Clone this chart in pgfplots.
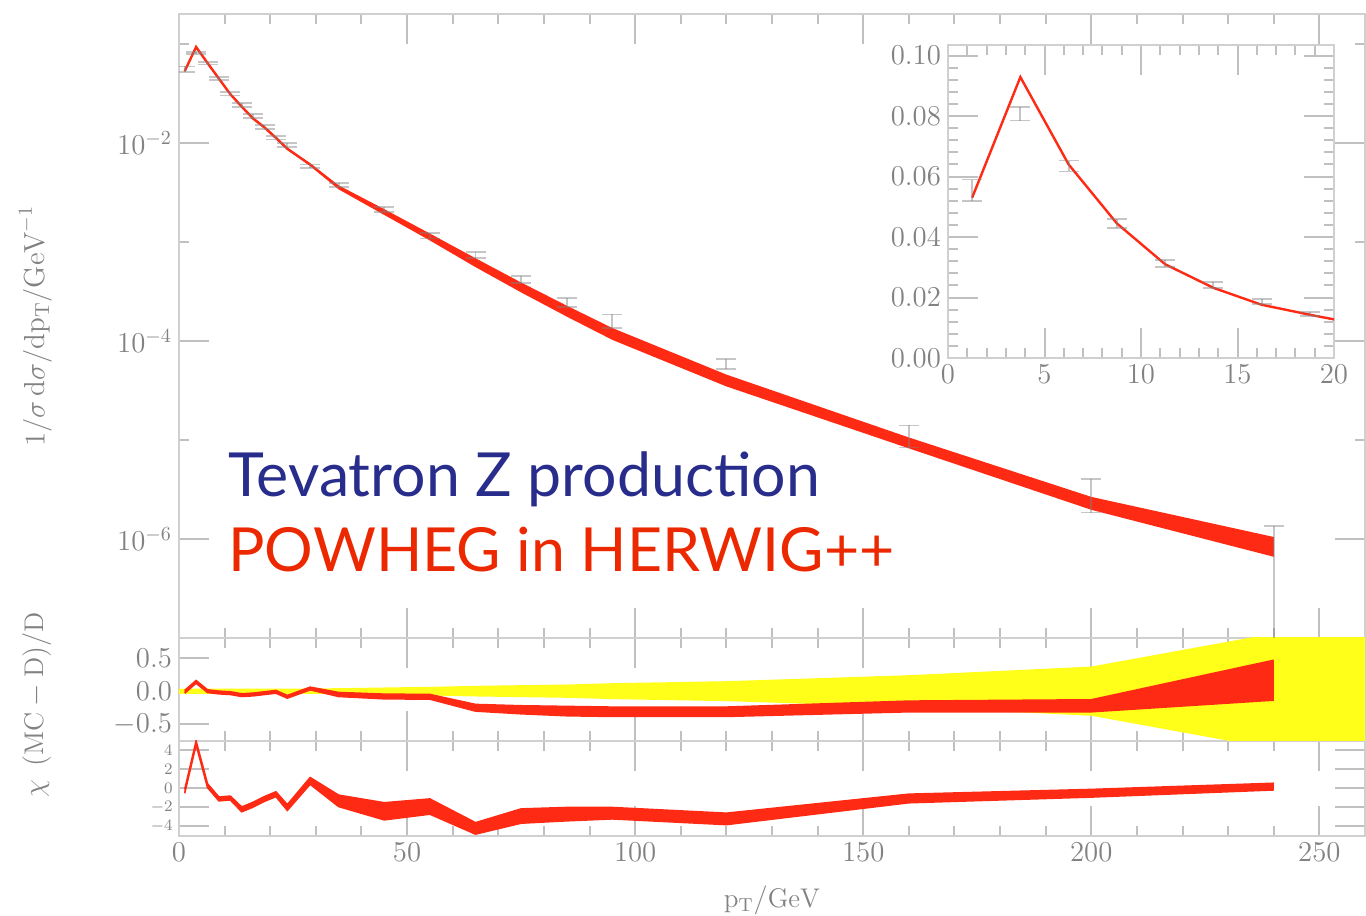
\documentclass[border=0pt]{standalone}
\usepackage{fontspec}
\usepackage{pgfplots}
\pgfplotsset{compat=1.18}
\usepackage{pgfplotstable}
\usepgfplotslibrary{fillbetween}
\newfontfamily\gill{Lato}
\definecolor{mcred}{RGB}{255,42,20}
\definecolor{band}{RGB}{255,255,26}
\definecolor{frame}{RGB}{208,208,208}
\definecolor{tickc}{RGB}{192,192,192}
\definecolor{lab}{RGB}{130,130,130}
\definecolor{tblue}{RGB}{40,45,140}
\definecolor{tred}{RGB}{235,40,0}

\pgfplotstableread{
x y lo hi
1.25 0.0530 0.0516 0.0545
3.75 0.0929 0.0904 0.0955
6.25 0.0640 0.0623 0.0658
8.75 0.0445 0.0433 0.0457
11.25 0.0310 0.0302 0.0319
13.75 0.0232 0.0226 0.0238
16.25 0.0176 0.0171 0.0181
18.75 0.0143 0.0139 0.0147
21.25 0.01122 0.01091 0.01153
23.75 8.71e-3 8.47e-3 8.95e-3
28.75 6.03e-3 5.87e-3 6.20e-3
35 3.55e-3 3.39e-3 3.72e-3
45 2.00e-3 1.87e-3 2.14e-3
55 1.12e-3 1.033e-3 1.214e-3
65 6.17e-4 5.56e-4 6.84e-4
75 3.47e-4 3.09e-4 3.89e-4
85 2.00e-4 1.76e-4 2.27e-4
95 1.175e-4 1.024e-4 1.349e-4
120 3.98e-5 3.47e-5 4.57e-5
160 9.33e-6 8.22e-6 1.059e-5
200 2.29e-6 1.97e-6 2.66e-6
240 8.32e-7 6.61e-7 1.047e-6
}\mcmain

\pgfplotstableread{
x y err
1.25 0.0555 0.0035
3.75 0.0807 0.0022
6.25 0.0635 0.0018
8.75 0.0445 0.0015
11.25 0.0313 0.0012
13.75 0.0242 0.0010
16.25 0.0186 0.0008
18.75 0.0145 0.0007
21.25 0.01133 0.0005
23.75 9.52e-3 4e-4
28.75 5.80e-3 2.5e-4
35 3.74e-3 1.6e-4
45 2.12e-3 1.1e-4
55 1.15e-3 7e-5
65 7.40e-4 5e-5
75 4.20e-4 3.5e-5
85 2.45e-4 2.5e-5
95 1.60e-4 2.5e-5
120 5.90e-5 7e-6
160 1.12e-5 2.8e-6
200 2.94e-6 1.09e-6
240 7.17e-7 6.24e-7
}\data

\pgfplotstableread{
x lo hi
0 -0.04 0.04
28.75 -0.04 0.04
35 -0.045 0.045
45 -0.055 0.055
55 -0.065 0.065
65 -0.08 0.08
75 -0.09 0.09
85 -0.10 0.10
95 -0.12 0.12
120 -0.15 0.15
160 -0.24 0.24
200 -0.37 0.37
240 -0.87 0.87
260 -0.87 0.87
}\ratiodata

\pgfplotstableread{
x lo hi
1.25 -0.03 0.01
3.75 0.12 0.16
6.25 -0.02 0.02
8.75 -0.04 0.00
11.25 -0.05 -0.01
13.75 -0.08 -0.04
16.25 -0.07 -0.03
18.75 -0.05 -0.01
21.25 -0.03 0.01
23.75 -0.105 -0.065
28.75 0.02 0.06
35 -0.08 -0.02
45 -0.115 -0.045
55 -0.12 -0.05
65 -0.30 -0.20
75 -0.34 -0.22
85 -0.37 -0.23
95 -0.38 -0.24
120 -0.38 -0.24
160 -0.31 -0.15
200 -0.31 -0.13
240 -0.135 0.465
}\ratiomc

\pgfplotstableread{
x lo hi
1.25 -0.5 -0.1
3.75 4.6 5.0
6.25 0.1 0.5
8.75 -1.3 -0.9
11.25 -1.2 -0.8
13.75 -2.45 -1.95
16.25 -1.95 -1.45
18.75 -1.35 -0.85
21.25 -0.85 -0.35
23.75 -2.3 -1.7
28.75 0.45 1.15
35 -1.9 -0.7
45 -3.3 -1.5
55 -2.7 -1.1
65 -4.8 -3.6
75 -3.65 -2.15
85 -3.4 -2.0
95 -3.2 -2.0
120 -3.8 -2.6
160 -1.5 -0.6
200 -0.9 -0.1
240 -0.15 0.55
}\chimc

\pgfplotsset{
  myaxis/.style={
    scale only axis,
    axis line style={frame, line width=1pt},
    tick style={tickc, line width=1pt},
    major tick length=15pt, minor tick length=5pt,
    xtick pos=both, ytick pos=both,
    tick align=inside,
    ticklabel style={font=\fontsize{14}{16}\selectfont, text=lab},
    label style={font=\fontsize{13.5}{15}\selectfont, text=lab},
    xmin=0, xmax=260,
    xtick={0,50,100,150,200,250}, minor x tick num=4,
  },
  errstyle/.style={only marks, mark=-, mark size=0pt,
    error bars/.cd, y dir=both, y explicit,
    error bar style={gray, opacity=0.45, line width=0.9pt},
    error mark options={gray, opacity=0.45, mark size=5pt, line width=0.9pt, rotate=90}},
}

\begin{document}
\begin{tikzpicture}
% main panel
\begin{axis}[myaxis, at={(89.5pt,139pt)}, anchor=south west,
  width=593pt, height=312pt,
  ymode=log, ymin=1e-7, ymax=0.2,
  ytick={1e-2,1e-4,1e-6}, minor ytick={1e-1,1e-3,1e-5,1e-7},
  xticklabels={},
  ylabel={$1/\sigma\,\mathrm{d}\sigma/\mathrm{dp_T}/\mathrm{GeV}^{-1}$},
  ylabel style={at={(axis description cs:-0.121,0.5)}, anchor=center, font=\fontsize{14.5}{16}\selectfont}]
\addplot[name path=mhi, draw=none, forget plot] table[x=x,y=hi]{\mcmain};
\addplot[name path=mlo, draw=none, forget plot] table[x=x,y=lo]{\mcmain};
\addplot[fill=mcred, draw=none] fill between[of=mhi and mlo];
\addplot[mcred, line width=1.2pt] table[x=x,y=y]{\mcmain};
\addplot[errstyle] table[x=x,y=y,y error=err]{\data};
\node[anchor=base west, text=tblue, font=\gill\fontsize{30.4}{31}\selectfont, inner sep=0pt]
  at (rel axis cs:0.0413,0.226) {Tevatron Z production};
\node[anchor=base west, text=tred, font=\gill\fontsize{30.4}{31}\selectfont, inner sep=0pt]
  at (rel axis cs:0.0413,0.107) {POWHEG in HERWIG++};
\end{axis}

% inset
\begin{axis}[myaxis, at={(474pt,279pt)}, anchor=south west,
  width=193pt, height=156.5pt,
  xmin=0, xmax=20, ymin=0, ymax=0.1035,
  xtick={0,5,10,15,20}, minor x tick num=4,
  ytick={0,0.02,0.04,0.06,0.08,0.10}, minor y tick num=4,
  scaled y ticks=false,
  yticklabel style={/pgf/number format/.cd, fixed, fixed zerofill, precision=2},
  axis background/.style={fill=white}]
\addplot[mcred, line width=1.2pt] table[x=x,y=y]{\mcmain};
\addplot[errstyle] table[x=x,y=y,y error=err]{\data};
\end{axis}

% ratio panel
\begin{axis}[myaxis, at={(89.5pt,87.5pt)}, anchor=south west,
  width=593pt, height=51.5pt,
  ymin=-0.75, ymax=0.8,
  ytick={-0.5,0,0.5},
  scaled y ticks=false,
  yticklabel style={/pgf/number format/.cd, fixed, fixed zerofill, precision=1},
  xticklabels={},
  ylabel={$(\mathrm{MC}-\mathrm{D})/\mathrm{D}$},
  ylabel style={at={(axis description cs:-0.12,0.5)}, anchor=center}]
\addplot[name path=dhi, draw=none, forget plot] table[x=x,y=hi]{\ratiodata};
\addplot[name path=dlo, draw=none, forget plot] table[x=x,y=lo]{\ratiodata};
\addplot[fill=band, draw=none] fill between[of=dhi and dlo];
\addplot[name path=rhi, draw=none, forget plot] table[x=x,y=hi]{\ratiomc};
\addplot[name path=rlo, draw=none, forget plot] table[x=x,y=lo]{\ratiomc};
\addplot[fill=mcred, draw=none] fill between[of=rhi and rlo];
\addplot[mcred, line width=0.8pt] table[x=x,y=hi]{\ratiomc};
\addplot[mcred, line width=0.8pt] table[x=x,y=lo]{\ratiomc};
\end{axis}

% chi panel
\begin{axis}[myaxis, at={(89.5pt,40pt)}, anchor=south west,
  width=593pt, height=47.5pt,
  ymin=-5, ymax=5,
  ytick={-4,-2,0,2,4},
  yticklabel style={font=\fontsize{8.5}{9}\selectfont, inner sep=0pt, xshift=-3pt},
  ylabel={$\chi$},
  ylabel style={at={(axis description cs:-0.117,0.5)}, anchor=center},
  xlabel={$\mathrm{p_T}/\mathrm{GeV}$},
  xlabel style={at={(axis description cs:0.5,0)}, anchor=center, yshift=-32pt}]
\addplot[name path=chi, draw=none, forget plot] table[x=x,y=hi]{\chimc};
\addplot[name path=clo, draw=none, forget plot] table[x=x,y=lo]{\chimc};
\addplot[fill=mcred, draw=none] fill between[of=chi and clo];
\addplot[mcred, line width=0.8pt] table[x=x,y=hi]{\chimc};
\addplot[mcred, line width=0.8pt] table[x=x,y=lo]{\chimc};
\end{axis}
\pgfresetboundingbox
\path[use as bounding box] (0,0) rectangle (683pt,458pt);
\end{tikzpicture}
\end{document}
